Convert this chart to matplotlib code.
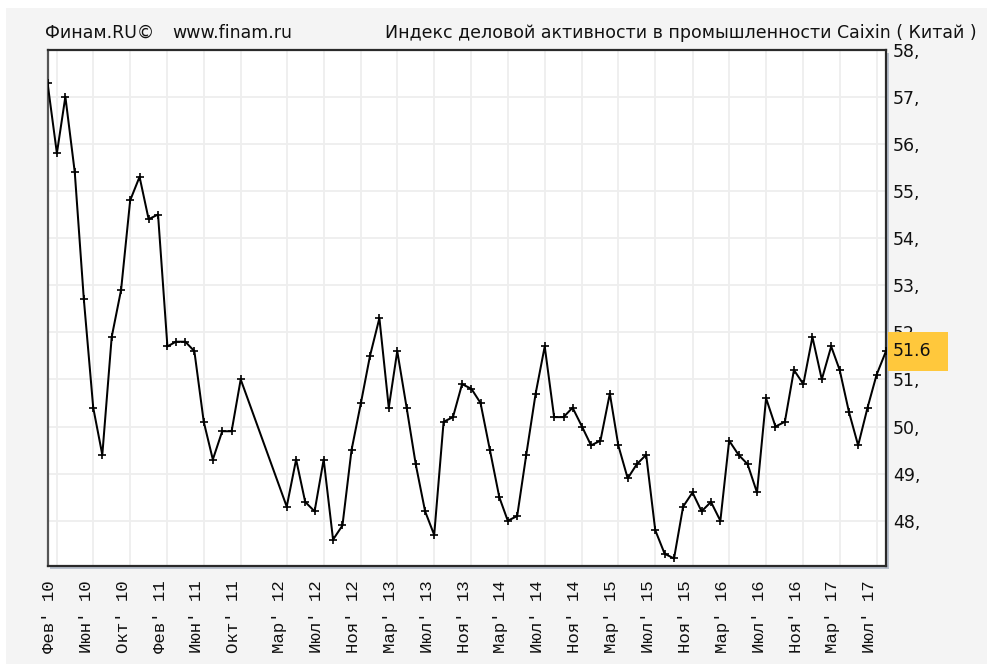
import numpy as np
import pandas as pd
import matplotlib
matplotlib.use('Agg')
import matplotlib.pyplot as plt
from matplotlib.patches import Rectangle
from matplotlib import transforms

# Caixin manufacturing PMI, monthly; Nov 2011 - Feb 2012 absent from the series
months = pd.date_range('2010-01-01', '2017-08-01', freq='MS')
missing = pd.date_range('2011-11-01', '2012-02-01', freq='MS')
months = months.difference(missing)

pmi = [
    # 2010
    57.3, 55.8, 57.0, 55.4, 52.7, 50.4, 49.4, 51.9, 52.9, 54.8, 55.3, 54.4,
    # 2011 (Jan-Oct)
    54.5, 51.7, 51.8, 51.8, 51.6, 50.1, 49.3, 49.9, 49.9, 51.0,
    # 2012 (Mar-Dec)
    48.3, 49.3, 48.4, 48.2, 49.3, 47.6, 47.9, 49.5, 50.5, 51.5,
    # 2013
    52.3, 50.4, 51.6, 50.4, 49.2, 48.2, 47.7, 50.1, 50.2, 50.9, 50.8, 50.5,
    # 2014
    49.5, 48.5, 48.0, 48.1, 49.4, 50.7, 51.7, 50.2, 50.2, 50.4, 50.0, 49.6,
    # 2015
    49.7, 50.7, 49.6, 48.9, 49.2, 49.4, 47.8, 47.3, 47.2, 48.3, 48.6, 48.2,
    # 2016
    48.4, 48.0, 49.7, 49.4, 49.2, 48.6, 50.6, 50.0, 50.1, 51.2, 50.9, 51.9,
    # 2017
    51.0, 51.7, 51.2, 50.3, 49.6, 50.4, 51.1, 51.6,
]

tick_months = ['2010-02', '2010-06', '2010-10', '2011-02', '2011-06', '2011-10',
               '2012-03', '2012-07', '2012-11', '2013-03', '2013-07', '2013-11',
               '2014-03', '2014-07', '2014-11', '2015-03', '2015-07', '2015-11',
               '2016-03', '2016-07', '2016-11', '2017-03', '2017-07']
tick_labels = ["Фев' 10", "Июн' 10", "Окт' 10", "Фев' 11", "Июн' 11", "Окт' 11",
               "Мар' 12", "Июл' 12", "Ноя' 12", "Мар' 13", "Июл' 13", "Ноя' 13",
               "Мар' 14", "Июл' 14", "Ноя' 14", "Мар' 15", "Июл' 15", "Ноя' 15",
               "Мар' 16", "Июл' 16", "Ноя' 16", "Мар' 17", "Июл' 17"]
y_levels = [48, 49, 50, 51, 52, 53, 54, 55, 56, 57, 58]
y_labels = ['%d,' % v for v in y_levels]

title = 'Индекс деловой активности в промышленности Caixin ( Китай )'

W, H = 990, 664
fig = plt.figure(figsize=(W / 100, H / 100), dpi=100)
fig.patch.set_facecolor('white')

# grey panel behind everything
fig.add_artist(Rectangle((6 / W, 0), 981 / W, 1 - 8 / H, transform=fig.transFigure,
                         facecolor='#f4f4f4', edgecolor='none', zorder=-2))

x0, x1, y_top, y_bot = 47.5, 886, 49.6, 566
ax_rect = [x0 / W, 1 - y_bot / H, (x1 - x0) / W, (y_bot - y_top) / H]

# soft shadow along the right and bottom edges of the plot
fig.add_artist(Rectangle((ax_rect[0] + 3 / W, ax_rect[1] - 3 / H), ax_rect[2], ax_rect[3],
                         transform=fig.transFigure, facecolor='#b9c1cd',
                         edgecolor='none', zorder=-1))

ax = fig.add_axes(ax_rect)
ax.set_facecolor('white')

ax.plot(months, pmi, color='black', lw=1.45, marker='+', ms=6, mew=1.2, zorder=3)

ax.set_xlim(pd.Timestamp('2010-01-01'), pd.Timestamp('2017-08-01'))
ax.set_ylim(47.04, 58)

tick_dates = pd.to_datetime(tick_months)
ax.set_xticks(tick_dates)
ax.set_xticklabels([])
ax.tick_params(axis='x', length=0)

ax.yaxis.tick_right()
ax.set_yticks(y_levels)
ax.set_yticklabels(y_labels, fontsize=12.5, family='DejaVu Sans', color='#111111')
ax.tick_params(axis='y', length=0, pad=5)

ax.grid(True, color='#eeeeee', lw=1.3)
ax.set_axisbelow(True)

for side in ['left', 'right', 'top', 'bottom']:
    ax.spines[side].set_color('#2a2a2a')
    ax.spines[side].set_linewidth(1.6)
ax.spines['left'].set_color('#555555')

# rotated month labels under the axis
lab_trans = transforms.blended_transform_factory(ax.transData, ax.transAxes) + \
    transforms.ScaledTranslation(-7 / 100, -14 / 100, fig.dpi_scale_trans)
for d, lab in zip(tick_dates, tick_labels):
    ax.text(d, 0, lab, transform=lab_trans, rotation=90, ha='center', va='top',
            fontsize=12.5, family='Liberation Mono', color='#111111', clip_on=False)

# last value tag on the right axis (offsets in pixels from the point on the border)
last = pmi[-1]
anchor = transforms.ScaledTranslation(
    1, last, transforms.blended_transform_factory(ax.transAxes, ax.transData))
ax.add_patch(Rectangle((2, -19.5), 60, 39, transform=anchor, facecolor='#ffc83c',
                       edgecolor='none', zorder=5, clip_on=False))
ax.text(7, 0, '%.1f' % last, transform=anchor, ha='left', va='center',
        fontsize=12.5, family='DejaVu Sans', color='#111111', zorder=6, clip_on=False)

# header line
fig.text(45 / W, 1 - 33 / H, 'Финам.RU©', ha='left', va='center',
         fontsize=12.5, family='DejaVu Sans', color='#111111')
fig.text(172 / W, 1 - 33 / H, 'www.finam.ru', ha='left', va='center',
         fontsize=12.5, family='DejaVu Sans', color='#111111')
fig.text(385 / W, 1 - 33 / H, title, ha='left', va='center',
         fontsize=12.5, family='DejaVu Sans', color='#111111')

fig.savefig('out.png', dpi=100, facecolor=fig.get_facecolor())
